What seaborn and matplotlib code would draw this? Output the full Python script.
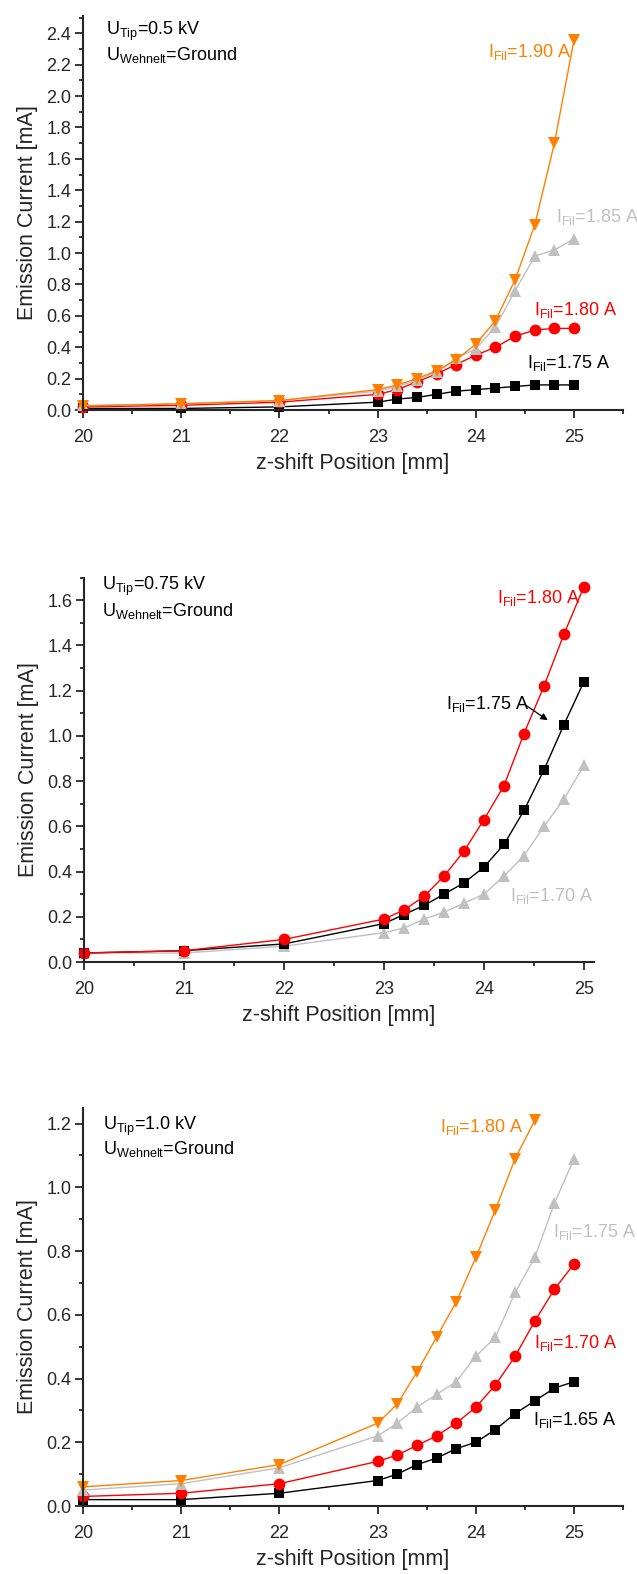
import matplotlib
matplotlib.use("Agg")
import matplotlib.pyplot as plt
from matplotlib.ticker import MultipleLocator, FormatStrFormatter
import seaborn as sns

sns.set_style("ticks")
plt.rcParams["font.family"] = ["Liberation Sans", "DejaVu Sans"]
plt.rcParams["mathtext.fontset"] = "custom"
plt.rcParams["mathtext.rm"] = "Liberation Sans"
plt.rcParams["mathtext.it"] = "Liberation Sans"

# ---------------- data ----------------
z_pos = [20, 21, 22, 23, 23.2, 23.4, 23.6, 23.8, 24, 24.2, 24.4, 24.6, 24.8, 25]
z_pos_short = [20, 21, 22, 23, 23.2, 23.4, 23.6, 23.8, 24, 24.2, 24.4, 24.6]

# U_Tip = 0.5 kV
p1_fil175 = [0.01, 0.01, 0.02, 0.05, 0.07, 0.08, 0.10, 0.12, 0.13, 0.14, 0.15, 0.16, 0.16, 0.16]
p1_fil180 = [0.02, 0.03, 0.05, 0.10, 0.13, 0.18, 0.23, 0.29, 0.35, 0.40, 0.47, 0.51, 0.52, 0.52]
p1_fil185 = [0.03, 0.04, 0.06, 0.12, 0.15, 0.19, 0.24, 0.33, 0.39, 0.53, 0.76, 0.98, 1.02, 1.09]
p1_fil190 = [0.025, 0.04, 0.06, 0.13, 0.16, 0.20, 0.25, 0.32, 0.42, 0.57, 0.83, 1.18, 1.70, 2.36]

# U_Tip = 0.75 kV
p2_fil170 = [0.04, 0.04, 0.07, 0.13, 0.15, 0.19, 0.22, 0.26, 0.30, 0.38, 0.47, 0.60, 0.72, 0.87]
p2_fil175 = [0.04, 0.05, 0.08, 0.17, 0.21, 0.25, 0.30, 0.35, 0.42, 0.52, 0.67, 0.85, 1.05, 1.24]
p2_fil180 = [0.04, 0.05, 0.10, 0.19, 0.23, 0.29, 0.38, 0.49, 0.63, 0.78, 1.01, 1.22, 1.45, 1.66]

# U_Tip = 1.0 kV
p3_fil165 = [0.02, 0.02, 0.04, 0.08, 0.10, 0.13, 0.15, 0.18, 0.20, 0.24, 0.29, 0.33, 0.37, 0.39]
p3_fil170 = [0.03, 0.04, 0.07, 0.14, 0.16, 0.19, 0.22, 0.26, 0.31, 0.38, 0.47, 0.58, 0.68, 0.76]
p3_fil175 = [0.05, 0.07, 0.12, 0.22, 0.26, 0.31, 0.35, 0.39, 0.47, 0.53, 0.67, 0.78, 0.95, 1.09]
p3_fil180 = [0.06, 0.08, 0.13, 0.26, 0.32, 0.42, 0.53, 0.64, 0.78, 0.93, 1.09, 1.21]

BLACK = "#000000"
RED = "#FF0000"
GRAY = "#C0C0C0"
ORANGE = "#FF8000"

xlabel = "z-shift Position [mm]"
ylabel = "Emission Current [mA]"

fig = plt.figure(figsize=(6.37, 15.74), dpi=100)

def style_axes(ax, xlim, ylim):
    ax.set_xlim(*xlim)
    ax.set_ylim(*ylim)
    ax.xaxis.set_major_locator(MultipleLocator(1))
    ax.xaxis.set_minor_locator(MultipleLocator(0.5))
    ax.yaxis.set_major_locator(MultipleLocator(0.2))
    ax.yaxis.set_minor_locator(MultipleLocator(0.1))
    ax.yaxis.set_major_formatter(FormatStrFormatter("%.1f"))
    ax.xaxis.set_major_formatter(FormatStrFormatter("%d"))
    sns.despine(ax=ax)
    for s in ("left", "bottom"):
        ax.spines[s].set_linewidth(1.5)
    ax.tick_params(which="major", direction="out", length=6, width=1.3, labelsize=13)
    ax.tick_params(axis="x", which="major", pad=8)
    ax.tick_params(axis="y", which="major", pad=2.5)
    ax.tick_params(which="minor", direction="out", length=3.2, width=1.3)
    ax.set_xlabel(xlabel, fontsize=15.5, labelpad=5)
    ax.set_ylabel(ylabel, fontsize=15.5, labelpad=6)

def series(ax, x, y, color, marker, ms=7.5):
    sns.lineplot(x=x, y=y, ax=ax, color=color, marker=marker, markersize=ms,
                 markeredgewidth=0, linewidth=1.0, sort=False, clip_on=False)

def header(ax, x, y1, y2, utip):
    ax.text(x, y1, r"U$_{\mathrm{Tip}}$=" + utip, fontsize=13, ha="left", va="center", color="black")
    ax.text(x, y2, r"U$_{\mathrm{Wehnelt}}$=Ground", fontsize=13, ha="left", va="center", color="black")

def fil(ax, x, y, txt, color):
    ax.text(x, y, r"I$_{\mathrm{Fil}}$=" + txt, fontsize=13, ha="left", va="center", color=color)

# ---------------- panel 1 ----------------
ax1 = fig.add_axes([0.1303, 0.7395, 0.848, 0.2503])
series(ax1, z_pos, p1_fil175, BLACK, "s", 7.5)
series(ax1, z_pos, p1_fil180, RED, "o", 8.5)
series(ax1, z_pos, p1_fil185, GRAY, "^", 9)
series(ax1, z_pos, p1_fil190, ORANGE, "v", 9)
style_axes(ax1, (20, 25.5), (0, 2.51))
header(ax1, 20.23, 2.41, 2.26, "0.5 kV")
fil(ax1, 24.12, 2.28, "1.90 A", ORANGE)
fil(ax1, 24.82, 1.23, "1.85 A", GRAY)
fil(ax1, 24.59, 0.64, "1.80 A", RED)
fil(ax1, 24.52, 0.30, "1.75 A", BLACK)

# ---------------- panel 2 ----------------
ax2 = fig.add_axes([0.1319, 0.3888, 0.8006, 0.2443])
series(ax2, z_pos, p2_fil170, GRAY, "^", 9)
series(ax2, z_pos, p2_fil175, BLACK, "s", 7.5)
series(ax2, z_pos, p2_fil180, RED, "o", 8.5)
style_axes(ax2, (20, 25.1), (0, 1.70))
header(ax2, 20.18, 1.66, 1.55, "0.75 kV")
fil(ax2, 24.13, 1.61, "1.80 A", RED)
fil(ax2, 23.62, 1.14, "1.75 A", BLACK)
fil(ax2, 24.26, 0.29, "1.70 A", GRAY)
ax2.annotate("", xy=(24.66, 1.062), xytext=(24.38, 1.147),
             arrowprops=dict(arrowstyle="-|>", color="black", lw=0.9, mutation_scale=10))

# ---------------- panel 3 ----------------
ax3 = fig.add_axes([0.1303, 0.0432, 0.848, 0.2529])
series(ax3, z_pos, p3_fil165, BLACK, "s", 7.5)
series(ax3, z_pos, p3_fil170, RED, "o", 8.5)
series(ax3, z_pos, p3_fil175, GRAY, "^", 9)
series(ax3, z_pos_short, p3_fil180, ORANGE, "v", 9)
style_axes(ax3, (20, 25.5), (0, 1.249))
header(ax3, 20.2, 1.19, 1.12, "1.0 kV")
fil(ax3, 23.64, 1.19, "1.80 A", ORANGE)
fil(ax3, 24.79, 0.86, "1.75 A", GRAY)
fil(ax3, 24.59, 0.51, "1.70 A", RED)
fil(ax3, 24.58, 0.27, "1.65 A", BLACK)

fig.savefig("out.png", dpi=100)
